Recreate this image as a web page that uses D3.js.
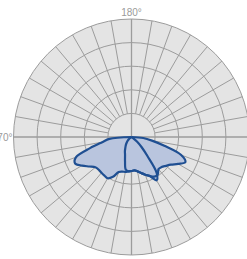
<!DOCTYPE html>
<html>
<head>
<meta charset="utf-8">
<script src="https://cdn.jsdelivr.net/npm/d3@7"></script>
<style>
  body { margin: 0; background: #fff; }
  svg { display: block; font-family: "Liberation Sans", Arial, sans-serif; }
</style>
</head>
<body>
<div id="chart"></div>
<script>
// gamma angles (deg), 0 = nadir (bottom), negative = left half, positive = right half
const gamma = [-90, -85, -80, -75, -70, -65, -60, -55, -50, -45, -40, -35, -30, -25, -20, -15, -10, -5,
  0, 5, 10, 15, 20, 25, 30, 35, 40, 45, 50, 55, 60, 65, 70, 75, 80, 85, 90];

// intensity values for the two planes
const planeA = [0, 47, 63, 91, 125, 132, 121, 109, 100, 98, 99, 100, 101, 93, 79, 76, 75, 73,
  72, 71, 74, 79, 85, 91, 106, 93, 52, 30, 15, 4, 0, 0, 0, 0, 0, 0, 0];
const planeB = [0, 0, 0, 0, 0, 0, 0, 4, 8, 12, 16, 21, 26, 33, 40, 53, 70, 73,
  72, 71, 74, 79, 85, 91, 97, 97, 89, 90, 95, 102, 114, 126, 112, 72, 44, 25, 0];

const ringValues = [50, 100, 150, 200, 250];
const axisLabels = [
  { angle: 180, text: "180°" },
  { angle: 270, text: "270°" },
];

const width = 247, height = 259;
const cx = 131.5, cy = 137;
const outerR = 118;

const r = d3.scaleLinear().domain([0, 250]).range([0, outerR]);

const svg = d3.select("#chart")
  .append("svg")
  .attr("width", width)
  .attr("height", height);

const g = svg.append("g").attr("transform", `translate(${cx}, ${cy})`);

// background disc
g.append("circle")
  .attr("r", r(250))
  .attr("fill", "#e4e4e4");

// polar angle: 0 at bottom, 90 at right, 180 top, 270 left
function px(deg, rad) { return rad * Math.sin(deg * Math.PI / 180); }
function py(deg, rad) { return rad * Math.cos(deg * Math.PI / 180); }

// spokes every 10 deg
const spokes = d3.range(0, 360, 10);
g.selectAll(".spoke")
  .data(spokes)
  .enter()
  .append("line")
  .attr("class", "spoke")
  .attr("x1", d => px(d, d % 90 === 0 ? 0 : r(ringValues[0])))
  .attr("y1", d => py(d, d % 90 === 0 ? 0 : r(ringValues[0])))
  .attr("x2", d => px(d, r(250)))
  .attr("y2", d => py(d, r(250)))
  .attr("stroke", "#9c9c9c")
  .attr("stroke-width", d => d % 90 === 0 ? 1.3 : 1);

// rings
g.selectAll(".ring")
  .data(ringValues)
  .enter()
  .append("circle")
  .attr("class", "ring")
  .attr("r", d => r(d))
  .attr("fill", "none")
  .attr("stroke", "#9c9c9c")
  .attr("stroke-width", 1);

// labels
g.selectAll(".axis-label")
  .data(axisLabels)
  .enter()
  .append("text")
  .attr("class", "axis-label")
  .attr("x", d => d.angle === 270 ? -119 : 0)
  .attr("y", d => d.angle === 180 ? -121.5 : 0)
  .attr("dy", d => d.angle === 180 ? 0 : "0.35em")
  .attr("text-anchor", d => d.angle === 270 ? "end" : "middle")
  .attr("font-size", 10)
  .attr("fill", "#9a9a9a")
  .text(d => d.text);

// curves
const line = d3.lineRadial()
  .angle(d => Math.PI - d.g * Math.PI / 180)
  .radius(d => r(d.v))
  .curve(d3.curveCatmullRom.alpha(0.5));

const series = [planeA, planeB].map(vals => gamma.map((gv, i) => ({ g: gv, v: vals[i] })));

g.selectAll(".area")
  .data(series)
  .enter()
  .append("path")
  .attr("class", "area")
  .attr("d", d => line(d) + "Z")
  .attr("fill", "#b9c5de")
  .attr("stroke", "none");

g.selectAll(".curve")
  .data(series)
  .enter()
  .append("path")
  .attr("class", "curve")
  .attr("d", d => line(d))
  .attr("fill", "none")
  .attr("stroke", "#1f4f92")
  .attr("stroke-width", 2.2)
  .attr("stroke-linejoin", "round");
</script>
</body>
</html>
